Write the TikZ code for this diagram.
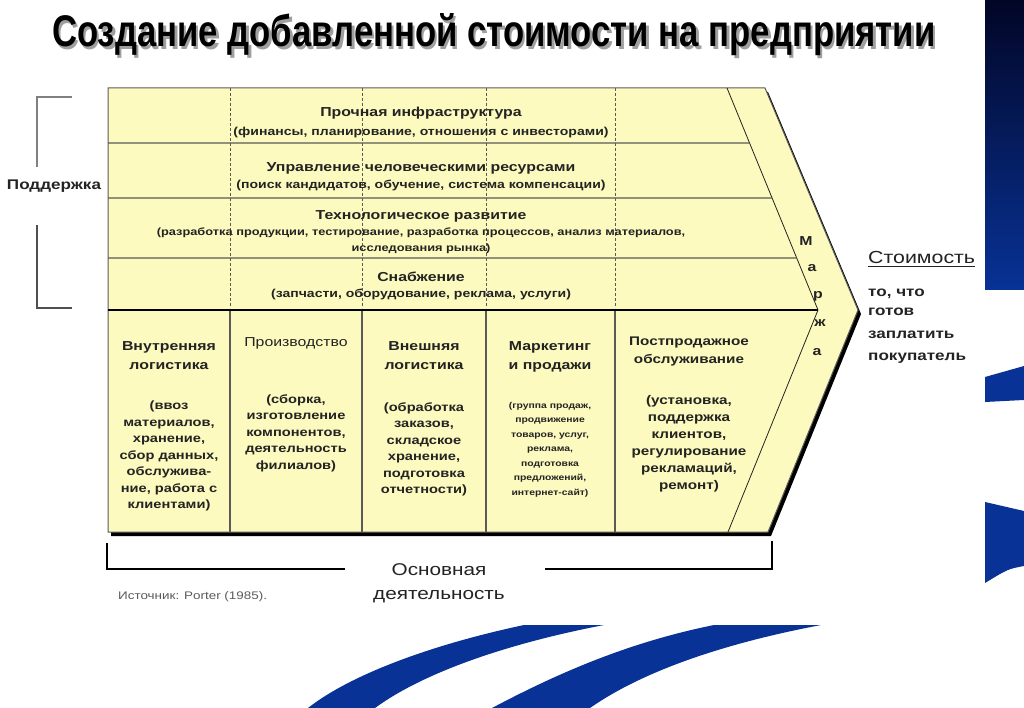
\documentclass[tikz,border=0pt]{standalone}
\usepackage{fontspec}
\setmainfont{Liberation Sans}[FakeStretch=1.22]
\newfontfamily\titlefont{Liberation Sans}
\usepackage{tikz}
\usetikzlibrary{positioning,calc}

\definecolor{chainfill}{RGB}{252,250,190}
\definecolor{inkgray}{RGB}{35,35,35}
\definecolor{lightink}{RGB}{90,90,90}
\definecolor{slideblue}{RGB}{8,50,150}
\definecolor{slidenavy}{RGB}{2,6,38}

\newcommand{\titletext}{\resizebox{883pt}{33pt}{\titlefont\bfseries Создание добавленной стоимости на предприятии}}

\tikzset{
  rowhead/.style={font=\fontsize{13}{16}\selectfont\bfseries, text=inkgray, inner sep=0pt, anchor=base},
  rowsub/.style={font=\fontsize{11.5}{16}\selectfont\bfseries, text=inkgray, inner sep=0pt, anchor=base},
  colhead/.style={font=\fontsize{13}{19}\selectfont\bfseries, text=inkgray, inner sep=0pt, align=center, anchor=north},
  colbody/.style={font=\fontsize{12}{16.5}\selectfont\bfseries, text=inkgray, inner sep=0pt, align=center, anchor=north},
  margin/.style={font=\fontsize{13}{13}\selectfont\bfseries, text=inkgray, inner sep=0pt},
  sideword/.style={font=\fontsize{14}{14}\selectfont\bfseries, text=inkgray, inner sep=0pt, anchor=base west},
  rowline/.style={draw=lightink, line width=1.2pt},
  sepline/.style={draw=lightink, line width=0.8pt, dash pattern=on 3pt off 2pt}
}

\begin{document}
\begin{tikzpicture}[x=1pt,y=-1pt]
\useasboundingbox (0,0) rectangle (1024,708);

% Hintergrund der Folie
\shade[top color=slidenavy, bottom color=slideblue] (985,0) rectangle (1024,290);
\fill[slideblue] (985,377) -- (1024,366) -- (1024,400) -- (985,402) -- cycle;
\fill[slideblue] (985,502) -- (1024,511) -- (1024,566) .. controls (1008,569) .. (985,583) -- cycle;
\fill[slideblue] (524,625) -- (604,625) .. controls (500,645) and (420,675) .. (375,708)
  -- (308,708) .. controls (350,675) and (430,645) .. (524,625) -- cycle;
\fill[slideblue] (714,625) -- (821,625) .. controls (700,648) and (630,680) .. (590,708)
  -- (492,708) .. controls (560,672) and (630,642) .. (714,625) -- cycle;

% Titel
\node[anchor=base west, inner sep=0pt, text=black] (title) at (52,47)
  {\rlap{\hspace*{2.5pt}\raisebox{-2.5pt}{\color{gray!75}\titletext}}\titletext};

% Kette
\coordinate (nw) at (108,88);
\coordinate (ne) at (765,88);
\coordinate (tip) at (858,310);
\coordinate (se) at (768,532);
\coordinate (sw) at (108,532);
\coordinate (mtop) at (727,88);
\coordinate (mmid) at (818,310);
\coordinate (mbot) at (728,532);

\fill[black] ([shift={(3,4)}]nw) -- ([shift={(3,4)}]ne) -- ([shift={(3,4)}]tip)
  -- ([shift={(3,4)}]se) -- ([shift={(3,4)}]sw) -- cycle;
\filldraw[fill=chainfill, draw=lightink, line width=1pt] (nw) -- (ne) -- (tip) -- (se) -- (sw) -- cycle;
\draw[inkgray, line width=0.8pt] (mtop) -- (mmid) -- (mbot);

\foreach \y in {143,198,258}
  \draw[rowline] (108,\y) -- ($(mtop)!{(\y-88)/222}!(mmid)$);
\draw[black, line width=2.5pt] (108,310) -- (mmid);

\foreach \x in {230,362,486,615} {
  \draw[sepline] (\x,88) -- (\x,308);
  \draw[rowline] (\x,311) -- (\x,532);
}

% Unterstuetzende Aktivitaeten
\node[rowhead] (infra) at (421,117) {Прочная инфраструктура};
\node[rowsub] (infrasub) at (421,136) {(финансы, планирование, отношения с инвесторами)};
\node[rowhead] (hr) at (421,172) {Управление человеческими ресурсами};
\node[rowsub] (hrsub) at (421,189) {(поиск кандидатов, обучение, система компенсации)};
\node[rowhead] (tech) at (421,220) {Технологическое развитие};
\node[rowsub, font=\fontsize{10.5}{14}\selectfont\bfseries] (techsub) at (421,236)
  {(разработка продукции, тестирование, разработка процессов, анализ материалов,};
\node[rowsub, font=\fontsize{10.5}{14}\selectfont\bfseries] (techsubb) at (421,252) {исследования рынка)};
\node[rowhead] (proc) at (421,281) {Снабжение};
\node[rowsub] (procsub) at (421,298) {(запчасти, оборудование, реклама, услуги)};

% Primaere Aktivitaeten
\node[colhead] (inlog) at (169,341.5) {Внутренняя\\логистика};
\node[colbody] (inlogtxt) at (169,401) {(ввоз\\материалов,\\хранение,\\сбор данных,\\обслужива-\\ние, работа с\\клиентами)};
\node[colhead, font=\fontsize{13}{19}\selectfont] (prod) at (296,337.5) {Производство};
\node[colbody] (prodtxt) at (296,394) {(сборка,\\изготовление\\компонентов,\\деятельность\\филиалов)};
\node[colhead] (outlog) at (424,341.5) {Внешняя\\логистика};
\node[colbody] (outlogtxt) at (424,402) {(обработка\\заказов,\\складское\\хранение,\\подготовка\\отчетности)};
\node[colhead] (mkt) at (550,341.5) {Маркетинг\\и продажи};
\node[colbody, font=\fontsize{8.5}{14.5}\selectfont\bfseries] (mkttxt) at (550,402)
  {(группа продаж,\\продвижение\\товаров, услуг,\\реклама,\\подготовка\\предложений,\\интернет-сайт)};
\node[colhead, font=\fontsize{12.5}{17.5}\selectfont\bfseries] (serv) at (689,337) {Постпродажное\\обслуживание};
\node[colbody, font=\fontsize{12.5}{17}\selectfont\bfseries] (servtxt) at (689,395)
  {(установка,\\поддержка\\клиентов,\\регулирование\\рекламаций,\\ремонт)};

% Маржа
\node[margin] (m1) at (806,241) {М};
\node[margin] (m2) at (812,268) {а};
\node[margin] (m3) at (818,296) {р};
\node[margin] (m4) at (820,323) {ж};
\node[margin] (m5) at (817,352) {а};

% Wert
\node[anchor=base west, inner sep=0pt, font=\fontsize{17.5}{17.5}\selectfont, text=inkgray] (val) at (868,264) {Стоимость};
\draw[inkgray, line width=1pt] ($(val.base west)+(0,3)$) -- ($(val.base east)+(0,3)$);
\node[sideword] (val1) at (868,297) {то, что};
\node[sideword] (val2) at (868,316) {готов};
\node[sideword] (val3) at (868,338) {заплатить};
\node[sideword] (val4) at (868,360) {покупатель};

% Klammern
\node[sideword, anchor=base] (support) at (54,190) {Поддержка};
\coordinate (st) at (72,97);
\coordinate (sb) at (72,308);
\draw[gray, line width=1.5pt] (st) -- (37,97) -- (37,167);
\draw[inkgray!80, line width=1.5pt] (37,225) -- (37,308) -- (sb);

\coordinate (bl) at (107,543);
\coordinate (br) at (772,541);
\draw[black, line width=2pt] (bl) -- (107,569) -- (345,569);
\draw[black, line width=2pt] (545,569) -- (772,569) -- (br);
\node[font=\fontsize{17}{24}\selectfont, text=inkgray, align=center, anchor=north, inner sep=0pt] (primary) at (439,563) {Основная\\деятельность};
\node[font=\fontsize{11}{11}\selectfont, text=lightink, anchor=base west, inner sep=0pt] (source) at (118,599) {Источник: Porter (1985).};
\end{tikzpicture}
\end{document}
